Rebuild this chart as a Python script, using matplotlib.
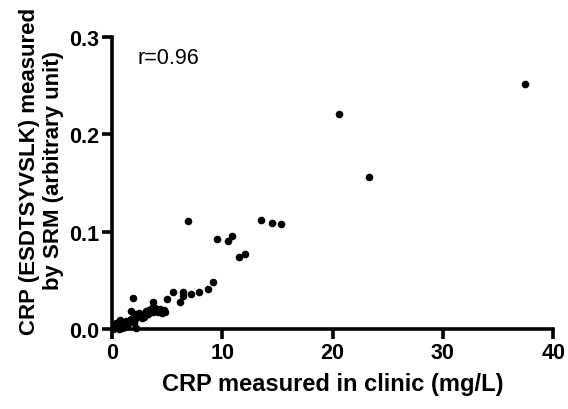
import matplotlib
matplotlib.use("Agg")
import matplotlib.pyplot as plt

plt.rcParams['font.family'] = ['Liberation Sans', 'DejaVu Sans']

clinic_crp = [
    37.4, 20.6, 23.3, 6.9, 9.5, 10.5, 10.9, 11.5, 12.1, 13.5, 14.5, 15.3,
    9.2, 8.7, 7.9, 7.2, 6.4, 6.4, 6.2, 5.5, 5.0, 3.7, 1.9,
    4.8, 4.7, 4.4, 4.2, 3.9, 3.6, 3.4, 3.1, 3.0, 2.8, 2.6, 2.7, 2.5, 3.3, 3.7, 4.5, 2.9, 1.7, 2.2, 2.0,
    0.1, 0.3, 0.5, 0.6, 0.8, 0.7, 1.0, 1.1, 1.3, 1.5, 1.6, 1.7, 1.9, 2.1, 2.2, 2.0, 0.4, 0.2, 1.2, 0.9, 1.4, 0.6,
]
srm_crp = [
    0.252, 0.221, 0.156, 0.111, 0.093, 0.091, 0.096, 0.074, 0.077, 0.112, 0.109, 0.108,
    0.048, 0.041, 0.038, 0.036, 0.038, 0.034, 0.028, 0.038, 0.031, 0.028, 0.032,
    0.018, 0.020, 0.021, 0.018, 0.022, 0.022, 0.020, 0.019, 0.016, 0.014, 0.013, 0.011, 0.017, 0.015, 0.018, 0.017, 0.012, 0.019, 0.015, 0.012,
    0.000, 0.002, 0.003, 0.005, 0.007, 0.009, 0.006, 0.004, 0.008, 0.007, 0.009, 0.010, 0.011, 0.010, 0.001, 0.006, 0.006, 0.001, 0.002, 0.001, 0.003, 0.000,
]
x_ticks = [0, 10, 20, 30, 40]
y_ticks = [0.0, 0.1, 0.2, 0.3]
y_tick_labels = ["0.0", "0.1", "0.2", "0.3"]

fig = plt.figure(figsize=(5.68, 4.10), dpi=100)
ax = fig.add_axes([0.197, 0.195, 0.777, 0.712])
ax.scatter(clinic_crp, srm_crp, s=30, color='black', zorder=3, clip_on=False, linewidths=0)
ax.set_xlim(0, 40)
ax.set_ylim(0, 0.3)
ax.set_xticks(x_ticks)
ax.set_yticks(y_ticks)
ax.set_yticklabels(y_tick_labels)
for s in ['top', 'right']:
    ax.spines[s].set_visible(False)
for s in ['left', 'bottom']:
    ax.spines[s].set_linewidth(2.6)
ax.tick_params(direction='out', length=7, width=2.6, labelsize=15.5, pad=2)
for lab in ax.get_xticklabels() + ax.get_yticklabels():
    lab.set_fontweight('bold')
ax.set_xlabel("CRP measured in clinic (mg/L)", fontsize=17, fontweight='bold', labelpad=7)
ax.set_ylabel("CRP (ESDTSYVSLK) measured\nby SRM (arbitrary unit)", fontsize=16, fontweight='bold', labelpad=4, linespacing=1.2)
ax.yaxis.label.set_y(0.545)
ax.text(2.3, 0.279, "r=0.96", fontsize=15.5, ha='left', va='center')
fig.savefig("out.png", dpi=100)
